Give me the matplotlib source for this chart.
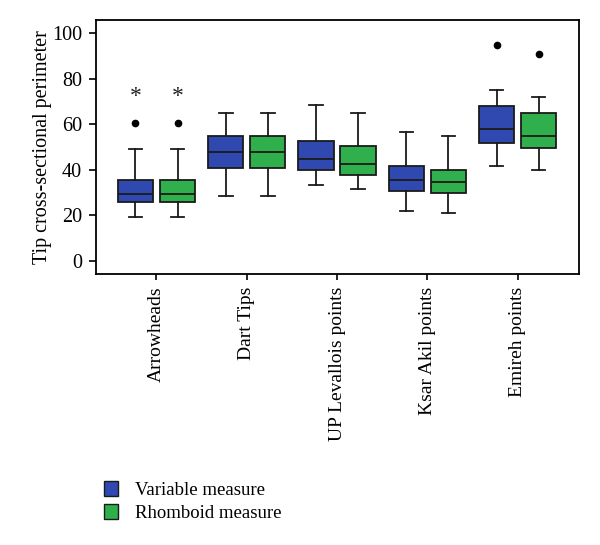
import matplotlib
matplotlib.use("Agg")
from matplotlib import pyplot as plt
from matplotlib.patches import Patch

plt.rcParams['font.family'] = ['Liberation Serif', 'DejaVu Serif']

categories = ['Arrowheads', 'Dart Tips', 'UP Levallois points', 'Ksar Akil points', 'Emireh points']
series_names = ['Variable measure', 'Rhomboid measure']
colors = ['#3049b0', '#30b04c']

# per series: whisker low, Q1, median, Q3, whisker high
var_low = [19.1, 28.6, 33.2, 21.7, 41.8]
var_q1 = [26.0, 40.9, 40.0, 30.8, 51.9]
var_med = [29.3, 47.7, 44.6, 35.5, 57.8]
var_q3 = [35.6, 54.9, 52.5, 41.7, 67.9]
var_high = [49.1, 65.0, 68.4, 56.6, 74.8]
var_out = [[60.4], [], [], [], [94.5]]

rho_low = [19.1, 28.6, 31.7, 20.9, 39.9]
rho_q1 = [26.0, 40.9, 37.8, 29.9, 49.7]
rho_med = [29.3, 47.7, 42.4, 34.5, 54.9]
rho_q3 = [35.6, 54.9, 50.2, 39.9, 65.0]
rho_high = [49.1, 65.0, 64.7, 54.6, 71.7]
rho_out = [[60.4], [], [], [], [90.9]]

# extreme outliers marked with asterisks
star_cat = [0, 0]
star_series = [0, 1]
star_val = [72.2, 72.2]

series = [
    (var_low, var_q1, var_med, var_q3, var_high, var_out),
    (rho_low, rho_q1, rho_med, rho_q3, rho_high, rho_out),
]

fig = plt.figure(figsize=(6, 5.45), dpi=100)
ax = fig.add_axes([0.16, 0.497, 0.805, 0.466])

offsets = [-0.233, 0.233]
for s, (lo, q1, med, q3, hi, out) in enumerate(series):
    stats = []
    for i in range(len(categories)):
        stats.append({'whislo': lo[i], 'q1': q1[i], 'med': med[i], 'q3': q3[i],
                      'whishi': hi[i], 'fliers': out[i]})
    pos = [i + offsets[s] for i in range(len(categories))]
    ax.bxp(stats, positions=pos, widths=0.39, capwidths=0.15, patch_artist=True,
           showfliers=True, manage_ticks=False,
           boxprops=dict(facecolor=colors[s], edgecolor='#1a1a1a', linewidth=1.3),
           medianprops=dict(color='#1a1a1a', linewidth=1.3),
           whiskerprops=dict(color='#1a1a1a', linewidth=1.3),
           capprops=dict(color='#1a1a1a', linewidth=1.3),
           flierprops=dict(marker='o', markerfacecolor='black', markeredgecolor='black',
                           markersize=4.5))

for c, s, v in zip(star_cat, star_series, star_val):
    ax.text(c + offsets[s], v, '*', ha='center', va='center', fontsize=17, color='#222222')

ax.set_xlim(-0.67, 4.68)
ax.set_ylim(-5.8, 105.6)
ax.set_xticks(range(len(categories)))
ax.set_xticklabels(categories, rotation=90, fontsize=14)
ax.set_yticks([0, 20, 40, 60, 80, 100])
ax.tick_params(axis='y', labelsize=14.5, length=5, width=1.2, pad=5)
ax.tick_params(axis='x', length=4, width=1.2, pad=5)
ax.set_ylabel('Tip cross-sectional perimeter', fontsize=14.5, labelpad=0)
for sp in ax.spines.values():
    sp.set_linewidth(1.3)

handles = [Patch(facecolor=colors[i], edgecolor='#1a1a1a', label=series_names[i])
           for i in range(2)]
fig.legend(handles=handles, loc='upper left', bbox_to_anchor=(0.173, 0.117),
           frameon=False, fontsize=13.5, handlelength=0.75, handleheight=0.85,
           handletextpad=0.9, labelspacing=0.25, borderpad=0, borderaxespad=0)

fig.savefig('out.png', dpi=100)
